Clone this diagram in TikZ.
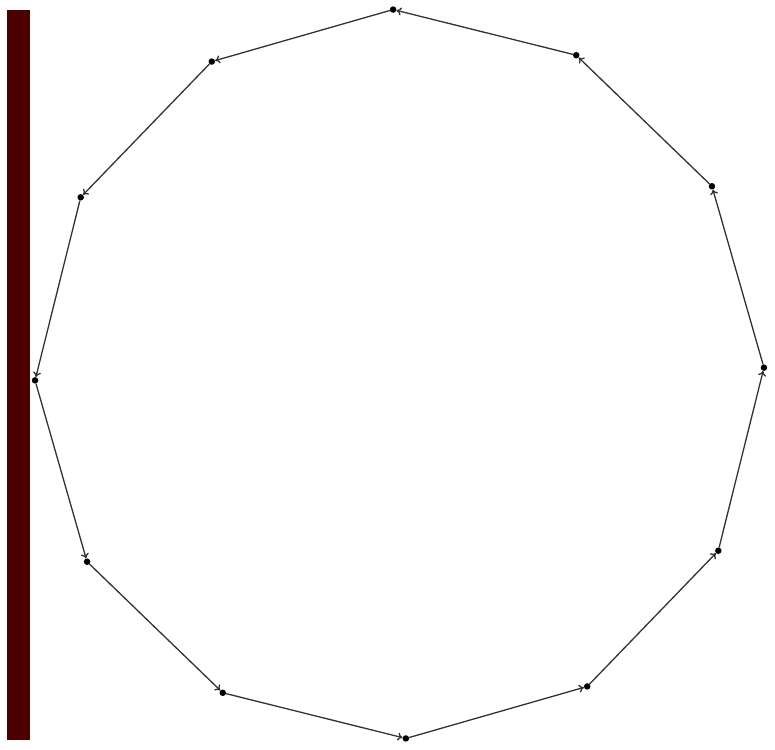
\documentclass[tikz,border=0pt]{standalone}
\usetikzlibrary{arrows.meta}
\definecolor{barred}{RGB}{77,0,0}
\definecolor{edgegray}{RGB}{50,50,50}
\begin{document}
\begin{tikzpicture}[x=1pt,y=-1pt,
  vdot/.style={circle,fill=black,inner sep=0pt,minimum size=6.5pt},
  edge/.style={draw=edgegray,line width=1.3pt,-{To[length=5pt,width=8pt]}}]
\useasboundingbox (0,0) rectangle (775,749);
\fill[barred] (7,10) rectangle (30,740);
\foreach \k in {0,...,11}{
  \node[vdot] (v\k) at ({399.5+364.5*cos(91+30*\k)},{374-364.5*sin(91+30*\k)}) {};
}
\foreach \k [evaluate=\k as \n using {int(mod(\k+1,12))}] in {0,...,11}{
  \draw[edge] (v\k) -- (v\n);
}
\end{tikzpicture}
\end{document}
